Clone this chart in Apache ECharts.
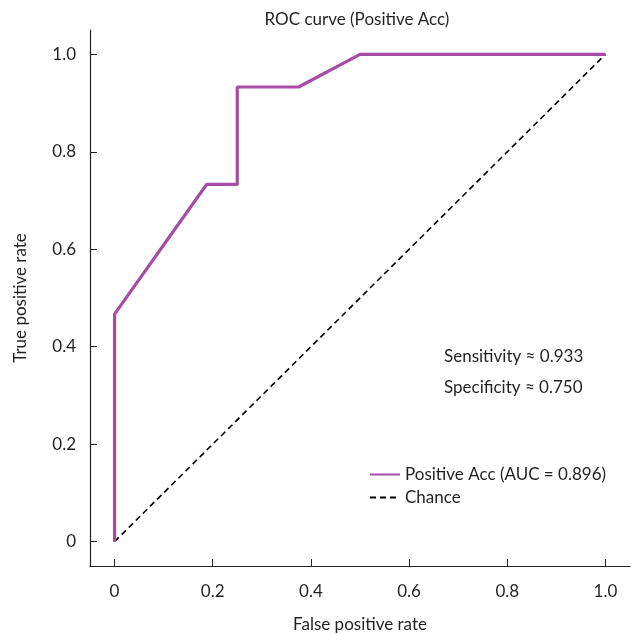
<!DOCTYPE html>
<html><head><meta charset="utf-8">
<script src="https://cdn.jsdelivr.net/npm/echarts@6/dist/echarts.min.js"></script>
<style>html,body{margin:0;padding:0;background:#fff}#c{width:634px;height:634px}</style>
</head><body><div id="c"></div>
<script>
const rocFpr = [0, 0, 0.1875, 0.25, 0.25, 0.375, 0.5, 1.0];
const rocTpr = [0, 0.467, 0.733, 0.733, 0.933, 0.933, 1.0, 1.0];
const chanceFpr = [0, 1];
const chanceTpr = [0, 1];
const tickValues = [0, 0.2, 0.4, 0.6, 0.8, 1.0];
const seriesNames = ['Positive Acc (AUC = 0.896)', 'Chance'];
const annotations = ['Sensitivity ≈ 0.933', 'Specificity ≈ 0.750'];

const FONT = '"Lato", sans-serif';
const TXT = '#231f20';
const fmt = v => (Math.abs(v) < 1e-9 ? '0' : v.toFixed(1));

const chart = echarts.init(document.getElementById('c'), null, {renderer: 'canvas'});
const axisCommon = {
  type: 'value', min: -0.05, max: 1.05,
  splitLine: {show: false},
  axisLine: {show: true, onZero: false, lineStyle: {color: TXT, width: 1.2}},
  axisTick: {show: true, inside: true, length: 7, customValues: tickValues, lineStyle: {color: TXT}},
  axisLabel: {customValues: tickValues, formatter: fmt, color: TXT, fontSize: 17, fontFamily: FONT},
  nameTextStyle: {color: TXT, fontSize: 17, fontFamily: FONT}
};
chart.setOption({
  animation: false,
  title: {text: 'ROC curve (Positive Acc)', left: 352, top: 6, textAlign: 'center',
    textStyle: {color: TXT, fontSize: 17, fontWeight: 'normal', fontFamily: FONT}},
  grid: {left: 90, right: 4, top: 30, bottom: 68, containLabel: false, outerBoundsMode: 'none'},
  xAxis: Object.assign({}, axisCommon, {name: 'False positive rate', nameLocation: 'middle', nameGap: 50,
    axisLabel: Object.assign({}, axisCommon.axisLabel, {margin: 17})}),
  yAxis: Object.assign({}, axisCommon, {name: 'True positive rate', nameLocation: 'middle', nameGap: 61,
    axisLabel: Object.assign({}, axisCommon.axisLabel, {margin: 14})}),
  legend: {orient: 'vertical', left: 364, top: 461, itemWidth: 30, itemHeight: 12, itemGap: 6,
    itemStyle: {color: 'rgba(0,0,0,0)', borderWidth: 0},
    textStyle: {color: TXT, fontSize: 17, fontFamily: FONT},
    data: seriesNames},
  series: [
    {name: seriesNames[0], type: 'line', symbol: 'none', z: 3,
      data: rocFpr.map((x, i) => [x, rocTpr[i]]),
      lineStyle: {color: '#a64ca6', width: 3.2}, itemStyle: {color: '#a64ca6'}},
    {name: seriesNames[1], type: 'line', symbol: 'none', z: 2,
      data: chanceFpr.map((x, i) => [x, chanceTpr[i]]),
      lineStyle: {color: '#000', width: 1.6, type: [6, 4]}, itemStyle: {color: '#000'}}
  ],
  graphic: annotations.map((t, i) => ({type: 'text', left: 444, top: 348 + i * 31,
    style: {text: t, fill: TXT, fontSize: 17, fontFamily: FONT}}))
});
</script></body></html>
